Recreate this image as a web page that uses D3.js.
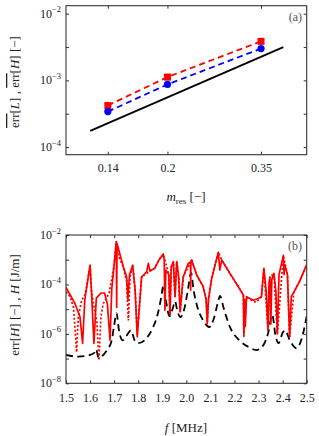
<!DOCTYPE html>
<html>
<head>
<meta charset="utf-8">
<script src="https://cdn.jsdelivr.net/npm/d3@7"></script>
<style>
body { margin: 0; background: #fff; }
svg text { font-family: "Liberation Serif", serif; fill: #222; }
.axis line { stroke: #333; }
</style>
</head>
<body>
<script>
// panel (a): mean errors vs m_res
var mRes = [0.14, 0.2, 0.35];
var errL = [4.2e-4, 1.12e-3, 3.85e-3];
var errH = [3.4e-4, 8.7e-4, 3.0e-3];
var refM = [0.126, 0.40];
var refErr = [1.75e-4, 3.16e-3];
var aTicksY = [1e-4, 3.16e-4, 1e-3, 3.16e-3, 1e-2];

// panel (b): H and err[H] vs frequency
var freqH = [1.5, 1.55, 1.6, 1.62, 1.625, 1.635, 1.67, 1.69, 1.70, 1.71, 1.72, 1.735, 1.75, 1.77, 1.785, 1.80,
  1.83, 1.86, 1.88, 1.895, 1.905, 1.915, 1.93, 1.945, 1.953, 1.962, 1.975, 1.99, 2.005, 2.02, 2.03, 2.045,
  2.07, 2.095, 2.115, 2.13, 2.14, 2.155, 2.18, 2.22, 2.26, 2.29, 2.32, 2.34, 2.357, 2.37, 2.383, 2.40, 2.41,
  2.43, 2.458, 2.48, 2.5];
var valH = [1.4e-7, 1.2e-7, 1.4e-7, 1.8e-7, 2.4e-7, 1.1e-7, 2.2e-7, 5.5e-7, 2.2e-6, 6.9e-6, 1.4e-6, 5.5e-7, 8.1e-7, 1.4e-6, 5.5e-7, 4.2e-7,
  6.0e-7, 1.7e-6, 5.8e-6, 2.8e-5, 9.3e-5, 2.3e-5, 5.2e-6, 1.2e-5, 2.1e-5, 9.1e-6, 4.8e-6, 9.1e-6, 4.9e-5, 2.9e-4, 5.9e-5, 1.3e-5,
  3.5e-6, 1.9e-6, 4.4e-6, 1.7e-5, 3.4e-5, 1.1e-5, 2.0e-6, 5.5e-7, 2.9e-7, 2.2e-7, 3.5e-7, 1.1e-6, 5.8e-6, 8.9e-7, 4.2e-7, 1.1e-6, 1.4e-6,
  5.5e-7, 2.6e-7, 6.8e-7, 5.2e-6];

var freqErr = [1.5, 1.537, 1.558, 1.569, 1.578, 1.6, 1.606, 1.616, 1.626, 1.645, 1.66, 1.672, 1.683, 1.69, 1.70, 1.709, 1.7105, 1.712,
  1.738, 1.752, 1.757, 1.764, 1.777, 1.787, 1.796, 1.814, 1.835, 1.842, 1.849, 1.868, 1.887, 1.904, 1.908, 1.911, 1.915,
  1.927, 1.932, 1.937, 1.946, 1.953, 1.96, 1.968, 1.974, 1.987, 2.008, 2.017, 2.018, 2.019, 2.022, 2.043, 2.07, 2.082, 2.087,
  2.092, 2.105, 2.119, 2.133, 2.139, 2.147, 2.181, 2.216, 2.237, 2.239, 2.242, 2.245, 2.25, 2.278, 2.299, 2.312, 2.322,
  2.331, 2.339, 2.343, 2.347, 2.351, 2.355, 2.364, 2.372, 2.378, 2.385, 2.403, 2.406, 2.409, 2.42, 2.429, 2.436, 2.447,
  2.47, 2.5];
var valErr = [7.6e-5, 1.7e-5, 4.9e-6, 4.1e-7, 2.3e-5, 6.0e-4, 5.0e-5, 4.1e-7, 2.8e-5, 4.5e-5, 4.5e-5, 1.6e-5, 5.5e-7, 6.3e-5, 6.3e-4, 5.4e-3, 1.2e-5, 4.5e-3,
  5.2e-4, 2.0e-4, 2.5e-5, 2.5e-4, 6.0e-4, 6.3e-5, 7.6e-7, 2.0e-4, 3.2e-4, 7.1e-4, 3.5e-4, 4.5e-4, 1.0e-3, 1.7e-3, 1.0e-3, 9.1e-6, 3.8e-4,
  2.5e-4, 5.8e-6, 5.0e-4, 8.3e-4, 3.2e-5, 8.3e-4, 2.0e-4, 7.8e-6, 2.0e-4, 7.1e-4, 7.9e-4, 5.9e-5, 8.9e-4, 9.8e-4, 2.4e-4, 8.1e-5, 2.5e-5, 2.6e-6,
  2.5e-5, 1.7e-4, 6.0e-4, 2.0e-3, 3.8e-4, 9.8e-4, 2.8e-4, 8.1e-5, 3.7e-5, 7.9e-7, 2.5e-5, 2.0e-6, 3.2e-5, 2.3e-5, 2.7e-5, 3.2e-5, 4.5e-4,
  6.3e-5, 1.4e-6, 1.0e-4, 2.0e-4, 2.5e-6, 1.6e-4, 2.8e-4, 5.0e-5, 1.0e-6, 2.5e-4, 1.5e-3, 2.5e-4, 6.3e-4, 2.5e-4, 7.6e-7, 3.2e-5, 5.0e-5,
  1.3e-4, 6.3e-4];

var freqErr2 = [1.5, 1.517, 1.531, 1.537, 1.544, 1.551, 1.565, 1.58, 1.6, 1.606, 1.616, 1.628, 1.637, 1.645, 1.655, 1.668, 1.68, 1.69,
  1.70, 1.709, 1.72, 1.738, 1.752, 1.759, 1.766, 1.777, 1.787, 1.796, 1.814, 1.849, 1.868, 1.887, 1.904, 1.927, 1.932, 1.937,
  1.946, 1.953, 1.96, 1.968, 1.974, 1.987, 2.022, 2.043, 2.07, 2.082, 2.087, 2.092, 2.105, 2.133, 2.147, 2.181, 2.216, 2.237,
  2.239, 2.25, 2.278, 2.29, 2.312, 2.322, 2.339, 2.347, 2.364, 2.378, 2.403, 2.42, 2.429, 2.447, 2.47, 2.5];
var valErr2 = [5.0e-5, 3.2e-5, 1.2e-5, 1.9e-6, 1.8e-7, 4.9e-6, 2.3e-5, 4.0e-5, 6.0e-4, 5.0e-5, 1.3e-5, 3.2e-6, 8.5e-8, 4.9e-6, 1.7e-5, 2.7e-5, 5.0e-5, 1.6e-4,
  6.3e-4, 5.4e-3, 1.3e-3, 5.0e-4, 1.3e-4, 3.5e-6, 2.0e-4, 6.0e-4, 6.3e-5, 1.0e-6, 2.0e-4, 3.5e-4, 4.5e-4, 1.0e-3, 1.7e-3, 2.5e-4, 5.8e-6, 5.0e-4,
  8.3e-4, 3.2e-5, 8.3e-4, 2.0e-4, 7.8e-6, 2.0e-4, 9.8e-4, 2.4e-4, 8.1e-5, 2.5e-5, 3.2e-6, 2.5e-5, 1.7e-4, 2.0e-3, 9.8e-4, 2.8e-4, 8.1e-5, 3.7e-5,
  1.0e-6, 3.0e-5, 2.1e-5, 1.9e-5, 3.2e-5, 4.5e-4, 1.4e-6, 2.0e-4, 2.8e-4, 1.0e-6, 1.5e-3, 2.5e-4, 7.6e-7, 5.0e-5, 1.3e-4, 6.3e-4];
var bTicksX = [1.5, 1.6, 1.7, 1.8, 1.9, 2.0, 2.1, 2.2, 2.3, 2.4, 2.5];
var bTicksY = [1e-8, 1e-7, 1e-6, 1e-5, 1e-4, 1e-3, 1e-2];

var W = 319, H = 436;
var svg = d3.select('body').append('svg').attr('width', W).attr('height', H);

var left = 66, right = 306.7;

// ---------- panel (a) ----------
var ax = d3.scaleLog().domain([0.109, 0.46]).range([left, right]);
var ay = d3.scaleLog().domain([Math.pow(10, -4.115), Math.pow(10, -1.88)]).range([154.7, 5.7]);

function frame(x0, x1, y0, y1) {
    svg.append('rect')
        .attr('x', x0).attr('y', y0)
        .attr('width', x1 - x0).attr('height', y1 - y0)
        .attr('fill', 'none').attr('stroke', '#333').attr('stroke-width', 1.1);
}

function sup(g, x, y, exp) {
    var t = g.append('text').attr('x', x).attr('y', y).attr('text-anchor', 'end').style('font-size', '12px');
    t.append('tspan').text('10');
    t.append('tspan').attr('dy', -5.5).style('font-size', '8.5px').text('\u2212' + exp);
}

var ga = svg.append('g');
ga.append('g').attr('class', 'axis').attr('transform', 'translate(0,154.7)')
    .call(d3.axisBottom(ax).tickValues(mRes).tickSizeInner(-3).tickSizeOuter(0).tickPadding(9)
        .tickFormat(function (d) { return String(d); }))
    .call(function (g) { g.select('.domain').remove(); g.selectAll('text').style('font-size', '12px').attr('fill', '#222'); });
ga.append('g').attr('class', 'axis').attr('transform', 'translate(0,5.7)')
    .call(d3.axisTop(ax).tickValues(mRes).tickSizeInner(-3).tickSizeOuter(0).tickFormat(''))
    .call(function (g) { g.select('.domain').remove(); });
ga.append('g').attr('class', 'axis').attr('transform', 'translate(' + left + ',0)')
    .call(d3.axisLeft(ay).tickValues(aTicksY).tickSizeInner(-3).tickSizeOuter(0).tickFormat(''))
    .call(function (g) { g.select('.domain').remove(); });
ga.append('g').attr('class', 'axis').attr('transform', 'translate(' + right + ',0)')
    .call(d3.axisRight(ay).tickValues(aTicksY).tickSizeInner(-3).tickSizeOuter(0).tickFormat(''))
    .call(function (g) { g.select('.domain').remove(); });
[2, 3, 4].forEach(function (e) { sup(ga, 61, ay(Math.pow(10, -e)) + 4, e); });

var lineA = d3.line().x(function (d) { return ax(d[0]); }).y(function (d) { return ay(d[1]); });
ga.append('path')
    .datum(d3.zip(refM, refErr))
    .attr('d', lineA)
    .attr('fill', 'none').attr('stroke', '#000').attr('stroke-width', 1.8);

ga.append('path').datum(d3.zip(mRes, errL)).attr('d', lineA)
    .attr('fill', 'none').attr('stroke', '#f00').attr('stroke-width', 1.8).attr('stroke-dasharray', '6,4');
ga.append('path').datum(d3.zip(mRes, errH)).attr('d', lineA)
    .attr('fill', 'none').attr('stroke', '#00f').attr('stroke-width', 1.8).attr('stroke-dasharray', '6,4');

ga.selectAll('rect.sq').data(d3.zip(mRes, errL)).enter().append('rect')
    .attr('class', 'sq')
    .attr('x', function (d) { return ax(d[0]) - 3.5; })
    .attr('y', function (d) { return ay(d[1]) - 3.5; })
    .attr('width', 7).attr('height', 7).attr('fill', '#f00');
ga.selectAll('circle').data(d3.zip(mRes, errH)).enter().append('circle')
    .attr('cx', function (d) { return ax(d[0]); })
    .attr('cy', function (d) { return ay(d[1]); })
    .attr('r', 3.6).attr('fill', '#00f');

frame(left, right, 5.7, 154.7);
ga.append('text').attr('x', 302).attr('y', 21).attr('text-anchor', 'end')
    .style('font-size', '12px').style('fill', '#555').text('(a)');

var xt = ga.append('text').attr('x', 186).attr('y', 201).attr('text-anchor', 'middle').style('font-size', '13px');
xt.append('tspan').style('font-style', 'italic').text('m');
xt.append('tspan').attr('dy', 2.5).style('font-size', '9px').text('res');
xt.append('tspan').attr('dy', -2.5).text(' [\u2212]');

var yt = ga.append('text').attr('transform', 'translate(19,82) rotate(-90)').attr('text-anchor', 'middle').style('font-size', '13px');
yt.append('tspan').style('text-decoration', 'overline').text('err');
yt.append('tspan').text('[');
yt.append('tspan').style('font-style', 'italic').text('L');
yt.append('tspan').text('] , ');
yt.append('tspan').style('text-decoration', 'overline').text('err');
yt.append('tspan').text('[');
yt.append('tspan').style('font-style', 'italic').text('H');
yt.append('tspan').text('] [\u2212]');

// ---------- panel (b) ----------
var bTop = 235, bBot = 383.3;
var bx = d3.scaleLinear().domain([1.5, 2.5]).range([left, right]);
var by = d3.scaleLog().domain([1e-8, 1e-2]).range([bBot, bTop]);

var gb = svg.append('g');
gb.append('g').attr('class', 'axis').attr('transform', 'translate(0,' + bBot + ')')
    .call(d3.axisBottom(bx).tickValues(bTicksX).tickSizeInner(-3).tickSizeOuter(0).tickPadding(10)
        .tickFormat(d3.format('.1f')))
    .call(function (g) { g.select('.domain').remove(); g.selectAll('text').style('font-size', '12px').attr('fill', '#222'); });
gb.append('g').attr('class', 'axis').attr('transform', 'translate(0,' + bTop + ')')
    .call(d3.axisTop(bx).tickValues(bTicksX).tickSizeInner(-3).tickSizeOuter(0).tickFormat(''))
    .call(function (g) { g.select('.domain').remove(); });
gb.append('g').attr('class', 'axis').attr('transform', 'translate(' + left + ',0)')
    .call(d3.axisLeft(by).tickValues(bTicksY).tickSizeInner(-3).tickSizeOuter(0).tickFormat(''))
    .call(function (g) { g.select('.domain').remove(); });
gb.append('g').attr('class', 'axis').attr('transform', 'translate(' + right + ',0)')
    .call(d3.axisRight(by).tickValues(bTicksY).tickSizeInner(-3).tickSizeOuter(0).tickFormat(''))
    .call(function (g) { g.select('.domain').remove(); });
[2, 4, 6, 8].forEach(function (e) { sup(gb, 61, by(Math.pow(10, -e)) + 4, e); });

svg.append('clipPath').attr('id', 'clipb').append('rect')
    .attr('x', left).attr('y', bTop).attr('width', right - left).attr('height', bBot - bTop);

var lineB = d3.line().x(function (d) { return bx(d[0]); }).y(function (d) { return by(d[1]); });
var plotB = gb.append('g').attr('clip-path', 'url(#clipb)');

plotB.append('path').datum(d3.zip(freqH, valH))
    .attr('d', lineB.curve(d3.curveMonotoneX))
    .attr('fill', 'none').attr('stroke', '#000').attr('stroke-width', 1.8).attr('stroke-dasharray', '7,4.5');
lineB.curve(d3.curveLinear);
plotB.append('path').datum(d3.zip(freqErr2, valErr2)).attr('d', lineB)
    .attr('fill', 'none').attr('stroke', '#f00').attr('stroke-width', 1.7).attr('stroke-dasharray', '2,2');
plotB.append('path').datum(d3.zip(freqErr, valErr)).attr('d', lineB)
    .attr('fill', 'none').attr('stroke', '#f00').attr('stroke-width', 1.7).attr('stroke-linejoin', 'round');

frame(left, right, bTop, bBot);
gb.append('text').attr('x', 302).attr('y', 250).attr('text-anchor', 'end')
    .style('font-size', '12px').style('fill', '#555').text('(b)');

var xb = gb.append('text').attr('x', 186).attr('y', 432).attr('text-anchor', 'middle').style('font-size', '13px');
xb.append('tspan').style('font-style', 'italic').text('f');
xb.append('tspan').text('  [MHz]');

var yb = gb.append('text').attr('transform', 'translate(19,305) rotate(-90)').attr('text-anchor', 'middle').style('font-size', '13px');
yb.append('tspan').text('err[');
yb.append('tspan').style('font-style', 'italic').text('H');
yb.append('tspan').text('] [\u2212] , ');
yb.append('tspan').style('font-style', 'italic').text('H');
yb.append('tspan').text(' [J/m]');
</script>
</body>
</html>
